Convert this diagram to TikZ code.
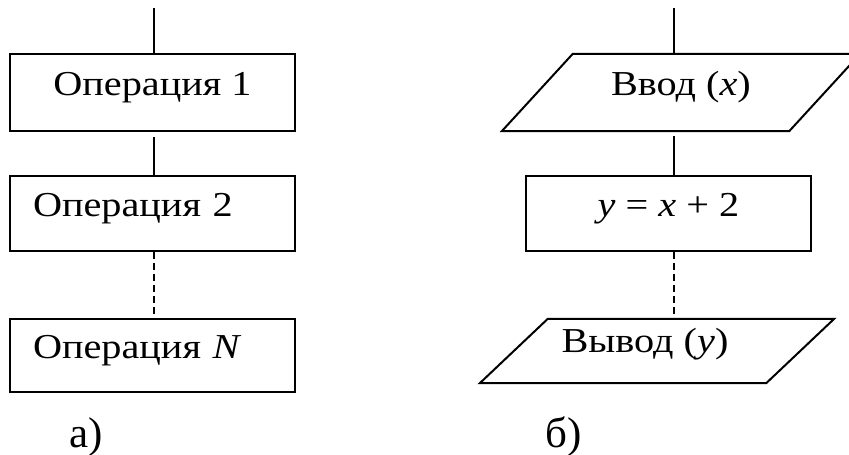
\documentclass[tikz,border=0pt]{standalone}
\usepackage{fontspec}
\setmainfont{Liberation Serif}[FakeStretch=1.15]
\newfontfamily\labelfont{Liberation Serif}
\usetikzlibrary{shapes.geometric,positioning}

\begin{document}
\begin{tikzpicture}[
    x=1pt, y=-1pt,
    font=\fontsize{35}{42}\selectfont,
    opbox/.style={rectangle, draw, line width=2pt, minimum width=285pt, minimum height=77pt, inner sep=0pt, text height=0.68em, text depth=0.15em},
    lefttext/.style={text width=239pt, align=left, inner xsep=23pt},
    iobox/.style={rectangle, minimum width=287pt, minimum height=77pt, inner sep=0pt, text height=0.68em, text depth=0.15em},
    ioline/.style={line width=2pt, line join=miter},
    link/.style={line width=2pt},
    gap/.style={link, dash pattern=on 7pt off 4pt},
    caption/.style={font=\labelfont\fontsize{43}{50}\selectfont, anchor=base, inner sep=0pt}
]
\useasboundingbox (0,0) rectangle (849,455);

% a) sequence of operations
\coordinate (topA) at (153.7,8);
\node[opbox] (op1) at (152.5,92.5) {Операция 1};
\node[opbox, minimum height=75pt, lefttext] (op2) at (152.5,213.5) {Операция 2};
\node[opbox, minimum height=73pt, lefttext] (opN) at (152.5,355.5) {Операция \textit{N}};

\draw[link] (topA) -- (topA |- op1.north);
\draw[link, shorten <=5pt] (topA |- op1.south) -- (topA |- op2.north);
\draw[gap] (topA |- op2.south) -- (topA |- opN.north);

\node[caption] (capA) at (86.5,447) {а)};

% b) input, calculation, output
\coordinate (topB) at (674,8);
\node[iobox] (in) at (681,92.5) {Ввод (\textit{x})};
\draw[ioline] ([xshift=35.5pt]in.north west) -- ([xshift=35.5pt]in.north east)
    -- ([xshift=-35.5pt]in.south east) -- ([xshift=-35.5pt]in.south west) -- cycle;
\node[opbox, minimum height=75pt] (calc) at (668.5,213.5) {\textit{y} = \textit{x} + 2};
\node[iobox, minimum width=286pt, minimum height=64pt, text height=0.5em] (out) at (657,351) {\hspace*{-24pt}Вывод (\textit{y})};
\draw[ioline] ([xshift=34pt]out.north west) -- ([xshift=34pt]out.north east)
    -- ([xshift=-34pt]out.south east) -- ([xshift=-34pt]out.south west) -- cycle;

\draw[link] (topB) -- (topB |- in.north);
\draw[link, shorten <=5pt] (topB |- in.south) -- (topB |- calc.north);
\draw[gap] (topB |- calc.south) -- (topB |- out.north);

\node[caption] (capB) at (563.5,447) {б)};

\end{tikzpicture}
\end{document}
